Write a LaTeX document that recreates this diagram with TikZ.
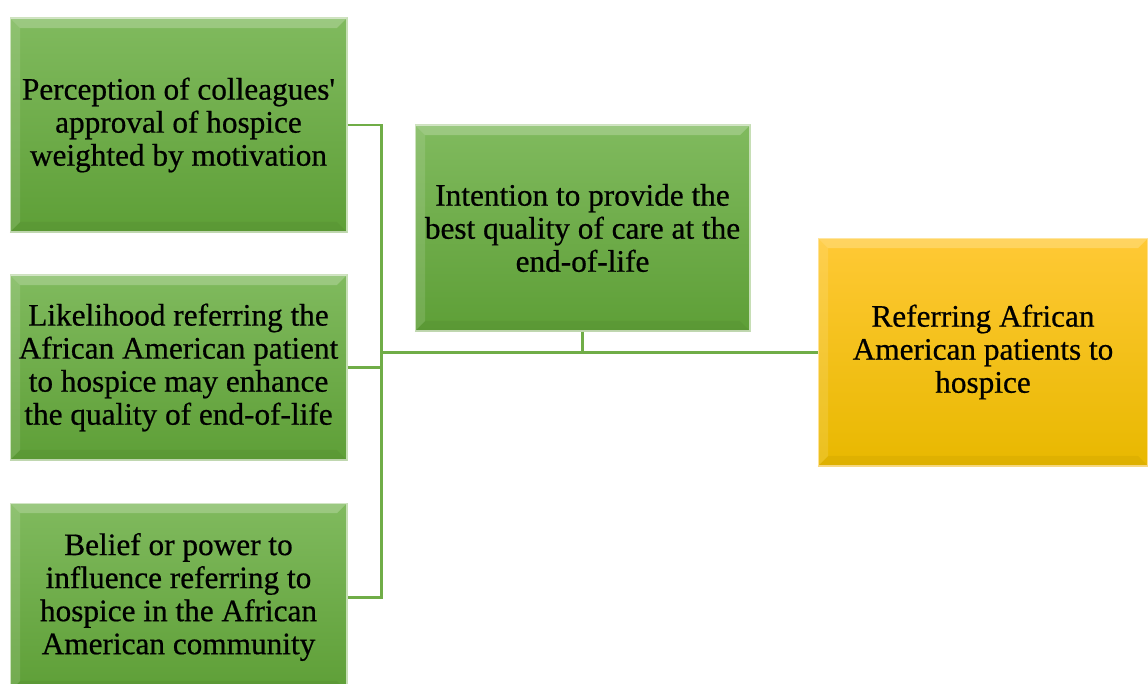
\documentclass[tikz,border=0pt]{standalone}
\usepackage{fontspec}
\setmainfont{Liberation Serif}
\newfontfamily\boxfont[FakeBold=0.6]{Liberation Serif}
\usepackage{xcolor}
\usetikzlibrary{positioning}
\usetikzlibrary{calc}
\definecolor{leafgreen}{HTML}{70AD47}
\definecolor{leaftop}{HTML}{80BA5E}
\definecolor{leafbot}{HTML}{5E9F37}
\definecolor{goldtop}{HTML}{FFC935}
\definecolor{goldbot}{HTML}{E8B800}

\begin{document}
\begin{tikzpicture}[x=0.02cm, y=-0.02cm,
		greenbox/.style={draw=leafgreen!40!white, line width=0.6pt, top color=leaftop, bottom color=leafbot, align=center, inner sep=0pt, font=\boxfont\fontsize{17.8}{18.8}\selectfont},
		goldbox/.style={greenbox, draw=goldtop!60!white, top color=goldtop, bottom color=goldbot},
		link/.style={draw=leafgreen, line width=1.7pt}]
					% page frame
					\useasboundingbox (0,0) rectangle (1148,683);
					\clip (0,0) rectangle (1148,683);
					% left boxes
					\node[greenbox, minimum width=6.74cm, minimum height=4.28cm] (percep) at (178.5,125) {Perception of colleagues\textquotesingle\\approval of hospice\\weighted by motivation};
					\node[greenbox, minimum width=6.74cm, minimum height=3.70cm] (likely) at (178.5,367.5) {Likelihood referring the\\African American patient\\to hospice may enhance\\the quality of end-of-life};
					\node[greenbox, minimum width=6.74cm, minimum height=3.76cm] (belief) at (178.5,597) {Belief or power to\\influence referring to\\hospice in the African\\American community};
					% middle and right boxes
					\node[greenbox, minimum width=6.70cm, minimum height=4.12cm] (intent) at (582.5,228) {Intention to provide the\\best quality of care at the\\end-of-life};
					\node[goldbox, minimum width=6.60cm, minimum height=4.56cm] (refer) at (983,352) {Referring African\\American patients to\\hospice};
					% bevel on the box edges
					\foreach \b in {percep,likely,belief,intent,refer} {
						\fill[white, opacity=0.22] (\b.north west) -- (\b.north east) -- ([shift={(-6pt,-6pt)}]\b.north east) -- ([shift={(6pt,-6pt)}]\b.north west) -- cycle;
						\fill[white, opacity=0.12] (\b.north west) -- ([shift={(6pt,-6pt)}]\b.north west) -- ([shift={(6pt,6pt)}]\b.south west) -- (\b.south west) -- cycle;
						\fill[black, opacity=0.04] (\b.south west) -- (\b.south east) -- ([shift={(-6pt,6pt)}]\b.south east) -- ([shift={(6pt,6pt)}]\b.south west) -- cycle;
					}
					% connectors
					\coordinate (spine) at (381,352);
					\draw[link] (percep.east) -| (spine) |- (belief.east);
					\draw[link] (likely.east) -- (likely.east -| spine);
					\draw[link] (spine) -- (refer.west);
					\draw[link] (intent.south) -- (intent.south |- spine);
				\end{tikzpicture}
\end{document}
